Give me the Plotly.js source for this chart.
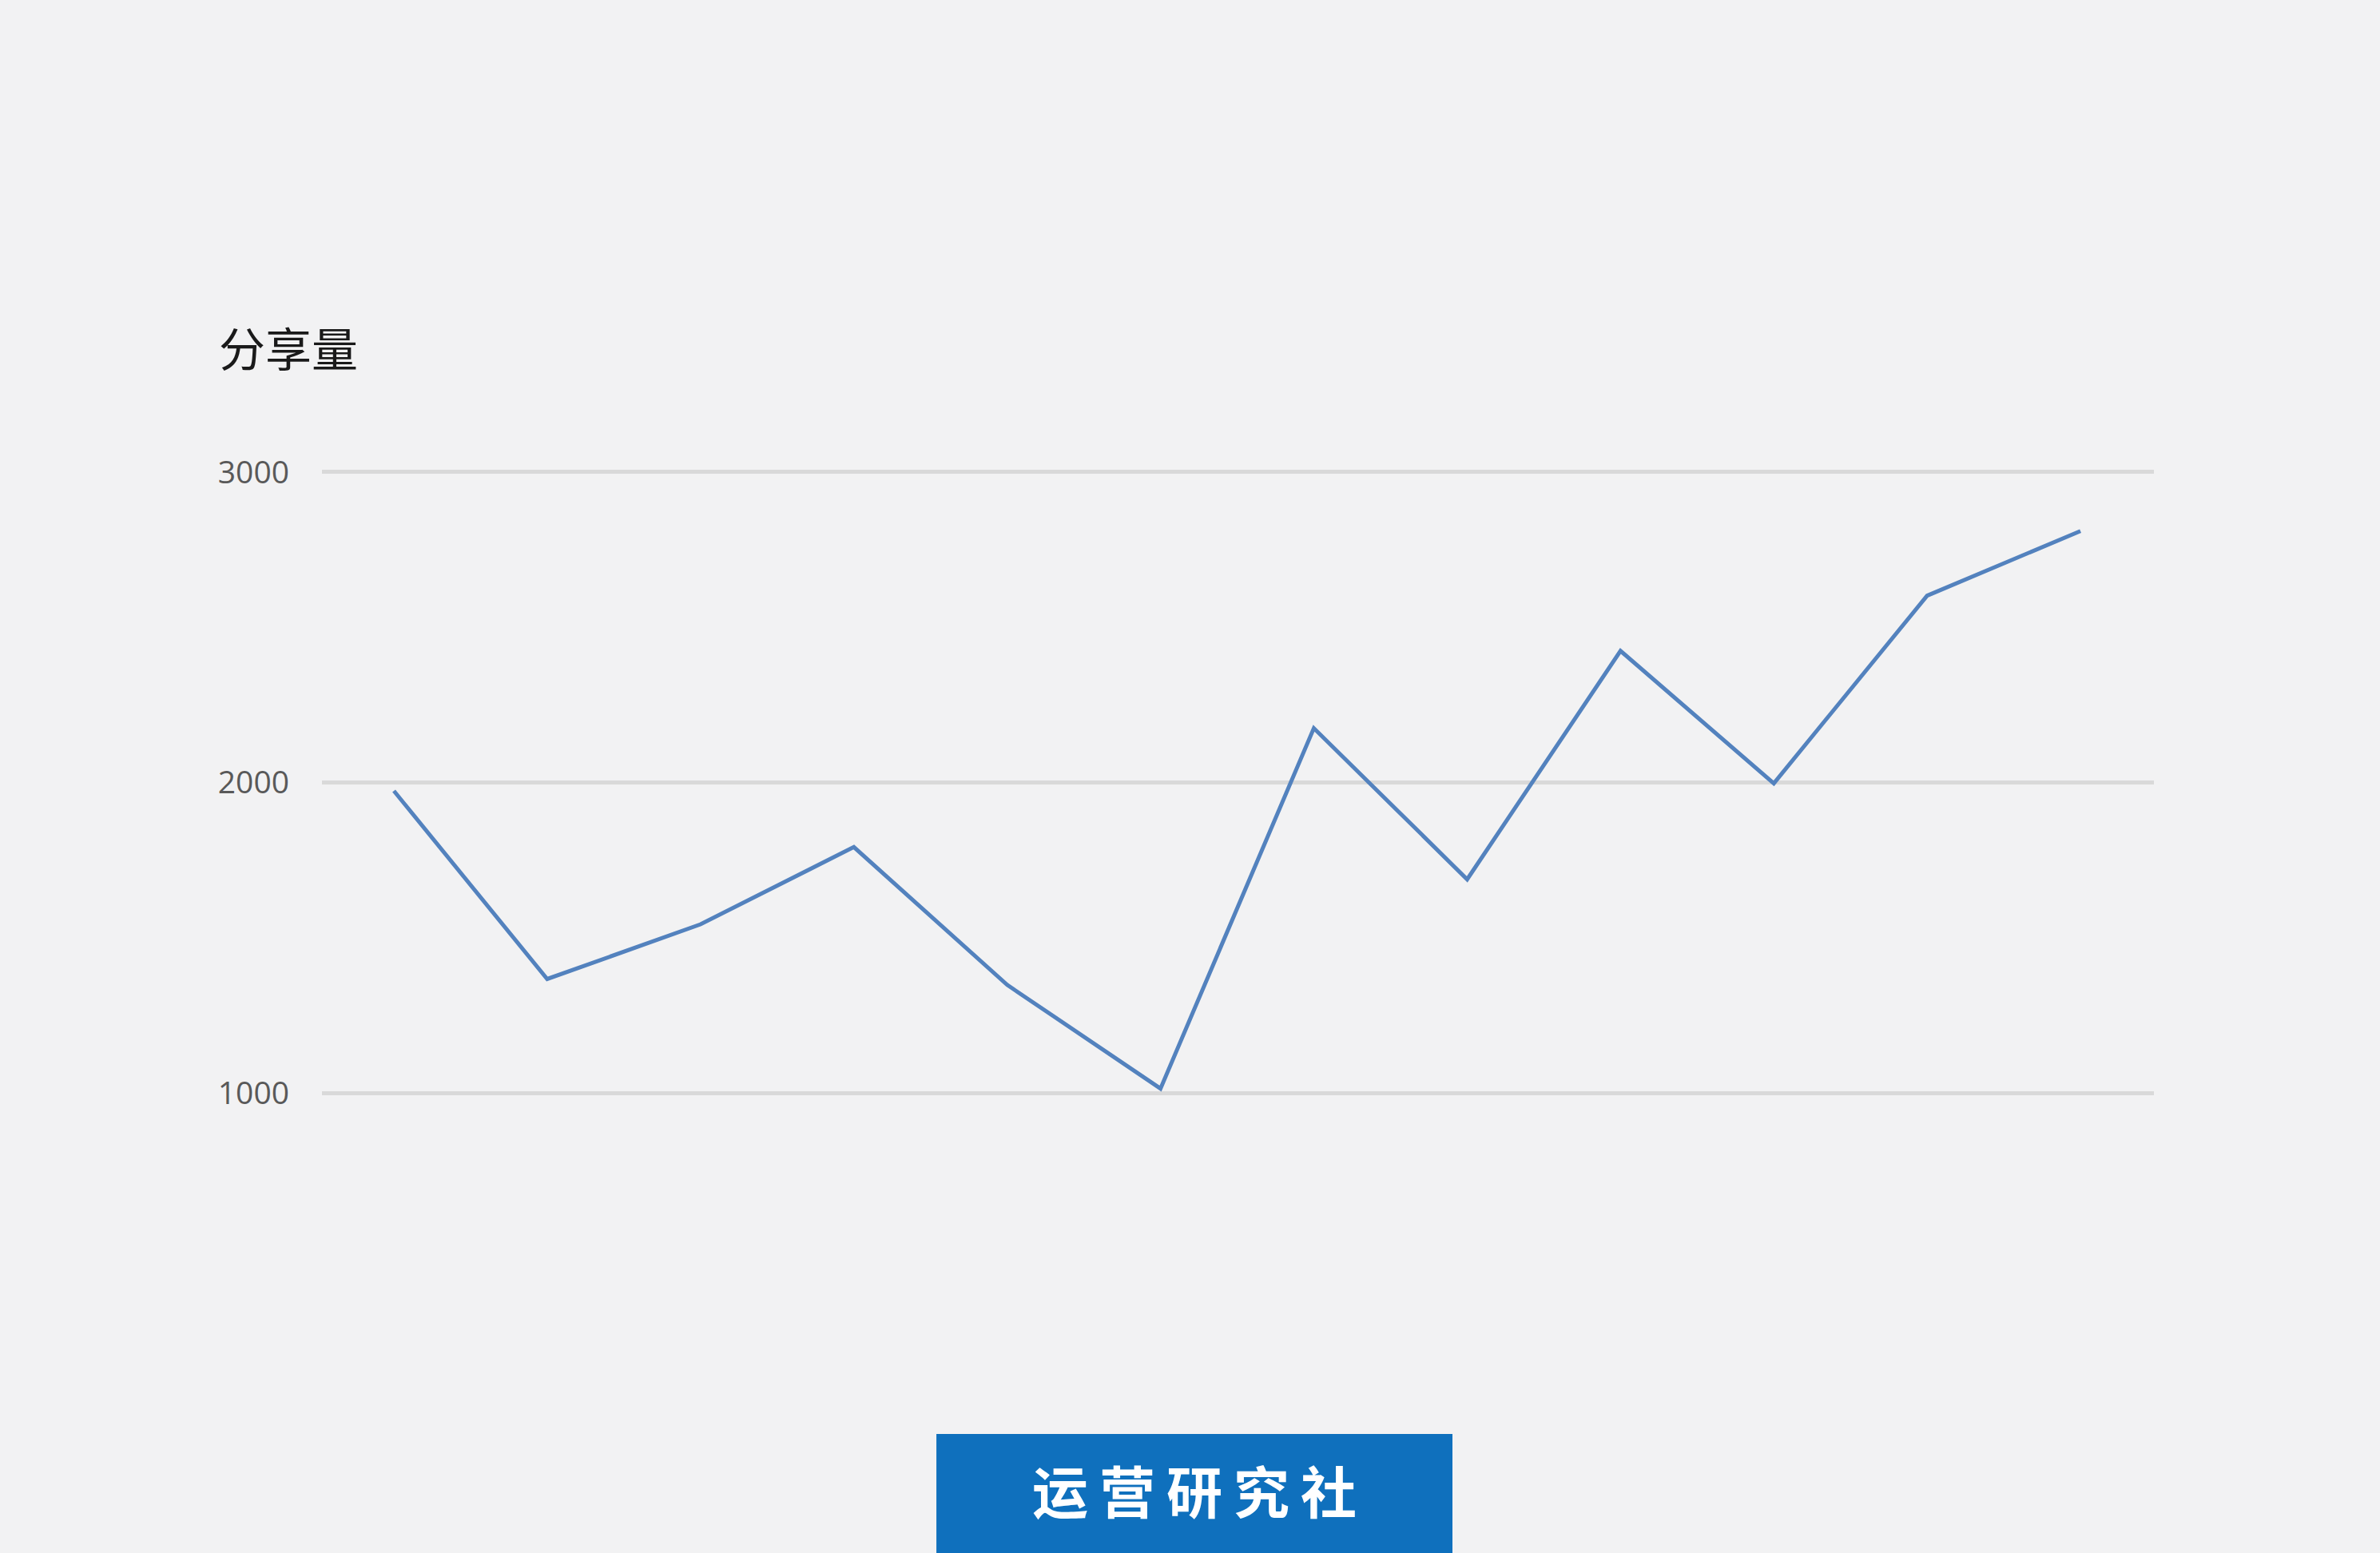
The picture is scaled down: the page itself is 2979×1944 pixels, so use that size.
<!DOCTYPE html>
<html>
<head>
<meta charset="utf-8">
<script src="https://cdn.plot.ly/plotly-3.0.1.min.js"></script>
<style>html,body{margin:0;padding:0;background:#f2f2f3;}#chart{width:2979px;height:1944px;}</style>
</head>
<body>
<div id="chart"></div>
<script>
const categories = [1, 2, 3, 4, 5, 6, 7, 8, 9, 10, 11, 12];
const shares = [1973, 1367, 1543, 1792, 1348, 1014, 2175, 1688, 2424, 1997, 2602, 2810];
const yTicks = [1000, 2000, 3000];
const yTickLabels = ['1000', '2000', '3000'];
const titleText = '分享量';
const brandText = '运\u2009营\u2009研\u2009究\u2009社';

const trace = {
  x: categories,
  y: shares,
  type: 'scatter',
  mode: 'lines',
  line: {color: '#5382be', width: 5},
  cliponaxis: false,
  hoverinfo: 'none'
};

const layout = {
  width: 2979,
  height: 1944,
  paper_bgcolor: '#f2f2f3',
  plot_bgcolor: '#f2f2f3',
  margin: {l: 403, r: 283, t: 589, b: 574, pad: 0},
  showlegend: false,
  xaxis: {
    type: 'linear',
    range: [0.531, 12.479],
    showgrid: false,
    zeroline: false,
    showline: false,
    showticklabels: false,
    ticks: ''
  },
  yaxis: {
    range: [995, 3005],
    tickvals: yTicks,
    ticktext: yTickLabels,
    showgrid: true,
    gridcolor: '#d9d9d9',
    gridwidth: 5,
    zeroline: false,
    showline: false,
    ticks: '',
    ticklabelstandoff: 40,
    tickfont: {family: 'Open Sans, Liberation Sans, sans-serif', size: 39, color: '#595959'}
  },
  shapes: [
    {type: 'rect', xref: 'paper', yref: 'paper', x0: 0.3354, x1: 0.6171, y0: -0.7350, y1: -0.5442,
     fillcolor: '#0f70bd', line: {width: 0}, layer: 'above'}
  ],
  annotations: [
    {text: titleText, xref: 'paper', yref: 'paper', x: -0.0571, y: 1.1985, xanchor: 'left', yanchor: 'middle',
     showarrow: false, font: {family: 'Noto Sans CJK SC, sans-serif', size: 58, color: '#1a1a1a'}},
    {text: '<b>' + brandText + '</b>', xref: 'paper', yref: 'paper', x: 0.4762, y: -0.6338, xanchor: 'center', yanchor: 'middle',
     showarrow: false, font: {family: 'Noto Sans CJK SC, sans-serif', size: 70, color: '#ffffff'}}
  ]
};

Plotly.newPlot('chart', [trace], layout, {displayModeBar: false, staticPlot: true});
</script>
</body>
</html>
